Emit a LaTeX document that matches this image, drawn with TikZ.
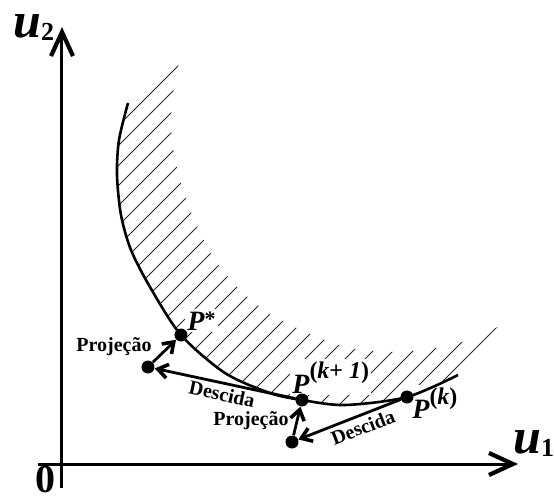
\documentclass[tikz,border=0pt]{standalone}
\usepackage{fontspec}
\setmainfont{Liberation Serif}
\usetikzlibrary{arrows.meta}

\begin{document}
\begin{tikzpicture}[
  x=0.5pt, y=-0.5pt,
  axis/.style={line width=1.5pt, -{Straight Barb[length=12pt, width=11pt, line width=2.1pt]}},
  arrow/.style={line width=1.4pt, -{Straight Barb[length=5pt, width=7pt, line width=1.8pt]}},
  dot/.style={circle, fill, inner sep=0pt, minimum size=6.5pt},
  plabel/.style={fill=white, inner sep=1pt, anchor=base west, font=\fontsize{14}{14}\selectfont\bfseries\itshape},
  steplabel/.style={font=\fontsize{10}{12}\selectfont\bfseries, inner sep=0pt},
  axlabel/.style={anchor=base west, inner sep=0pt, font=\fontsize{25}{25}\selectfont\bfseries\itshape}
]
\useasboundingbox (0,0) rectangle (554,499);

% regiao hachurada
\begin{scope}
  \clip plot[smooth] coordinates {(128,103) (119,140) (117,175) (121,215) (131,250) (150,287) (181,335) (225,373) (270,393) (302,400) (345,405) (407,397) (458,375)}
    -- plot[smooth] coordinates {(500,326) (465,341) (436,348) (395,352) (350,348) (310,334) (270,314) (240,290) (215,260) (195,222) (180,180) (172,140) (172,100) (180,58)}
    -- cycle;
  \foreach \c in {244,264,...,824}
    \draw[line width=0.5pt, black!85] (\c-500,500) -- (\c+100,-100);
\end{scope}

% eixos
\coordinate (ybot) at (62,488);
\coordinate (ytop) at (62,27);
\coordinate (xleft) at (38,464);
\coordinate (xright) at (518,464);
\draw[axis] (ybot) -- (ytop);
\draw[axis] (xleft) -- (xright);
\node[axlabel] (lu2) at (13,37) {u\raisebox{-1.5pt}{\fontsize{13}{13}\selectfont\upshape 2}};
\node[axlabel] (lu1) at (513,453) {u\raisebox{-1.5pt}{\fontsize{13}{13}\selectfont\upshape 1}};
\node[anchor=base, inner sep=0pt, font=\fontsize{20}{20}\selectfont\bfseries] (lzero) at (46,492) {0};

% rotulos dos pontos
\node[plabel] (lstar) at (185,330) {P\raisebox{2pt}{\fontsize{11}{11}\selectfont\upshape *}};
\node[plabel] (lk1) at (290,393) {P\raisebox{7.5pt}{\fontsize{12}{12}\selectfont\upshape(\itshape k\upshape+ \itshape 1\upshape)}};
\node[plabel] (lk) at (410,418) {P\raisebox{7pt}{\fontsize{12}{12}\selectfont\upshape(\itshape k\upshape)}};

% fronteira
\draw[line width=1.3pt] plot[smooth] coordinates {(128,103) (119,140) (117,175) (121,215) (131,250) (150,287) (181,335) (225,373) (270,393) (302,400) (345,405) (407,397) (458,375)};

\node[dot] (pstar) at (181,335) {};
\node[dot] (pd1) at (148,367) {};
\node[dot] (pk1) at (302,400) {};
\node[dot] (pd2) at (292,442) {};
\node[dot] (pk) at (407,397) {};

\draw[arrow] (pk) -- (pd2);
\draw[arrow] (pd2) -- (pk1);
\draw[arrow] (pk1) -- (pd1);
\draw[arrow] (pd1) -- (pstar);

\node[steplabel] (lproj1) at (114,347) {Projeção};
\node[steplabel, rotate=-12.5] (ldesc1) at (222,394) {Descida};
\node[steplabel] (lproj2) at (251,421) {Projeção};
\node[steplabel, rotate=21] (ldesc2) at (363,427) {Descida};
\end{tikzpicture}
\end{document}
